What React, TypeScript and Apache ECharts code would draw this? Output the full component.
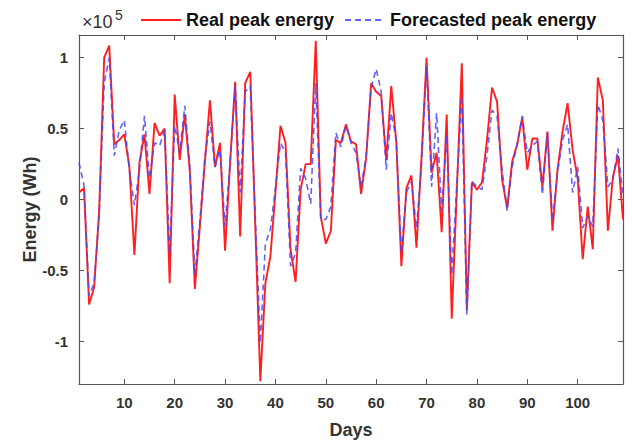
import React, { useEffect, useRef } from "react";
import * as echarts from "echarts";

// Daily peak energy in Wh, day 1 .. day 109
const realPeak = [
  5000, 8000, -74000, -62000, -8000, 100000, 108500, 39000, 42000, 46000,
  23000, -39000, 26000, 46000, 4000, 54000, 45000, 50000, -59000, 74000,
  28000, 60000, 20000, -63000, -19000, 27000, 70000, 23000, 40000, -36000,
  26000, 83000, -26000, 82000, 90000, -19000, -128000, -59000, -40000, 5000,
  52000, 40000, -35000, -58000, 7000, 25000, 25000, 112000, -12000, -31000,
  -22000, 42000, 40000, 53000, 41000, 39000, 4000, 29000, 82000, 76000,
  73000, 28000, 80000, 40000, -47000, 8000, 17000, -34000, 30000, 100000,
  19000, 33000, -23000, 60000, -84000, 5000, 96000, -78000, 12000, 7000,
  12000, 42000, 79000, 69000, 14000, -6000, 27000, 39000, 58000, 21000,
  43000, 43000, 9000, 48000, -22000, 21000, 48000, 68000, 35000, 15000,
  -42000, -5000, -35000, 86000, 70000, -22000, 16000, 31000, -14000,
];

const forecastPeak = [
  26000, 10000, -68000, -59000, -12000, 82000, 100000, 31000, 49000, 56000,
  21000, -4000, 21000, 59000, 15000, 40000, 38000, 49000, -38000, 52000,
  33000, 66000, 25000, -53000, -15000, 30000, 55000, 23000, 35000, -19000,
  26000, 80000, 5000, 76000, 80000, -12000, -101000, -31000, -21000, 8000,
  40000, 33000, -47000, -38000, 22000, 15000, -3000, 82000, -14000, -14000,
  -5000, 47000, 37000, 52000, 40000, 33000, 9000, 30000, 79000, 92000,
  76000, 21000, 61000, 42000, -38000, 5000, 13000, -20000, 25000, 94000,
  9000, 61000, -8000, 45000, -53000, 10000, 73000, -81000, 13000, 9000,
  7000, 31000, 63000, 59000, 21000, -8000, 23000, 39000, 59000, 33000,
  38000, 41000, 3500, 47000, -15000, 19000, 42000, 53000, 5000, 23000,
  -20000, -12000, -19000, 67000, 56000, 9000, 14000, 36000, 2000,
];

const dayTicks = [10, 20, 30, 40, 50, 60, 70, 80, 90, 100];
const energyTicks = [-100000, -50000, 0, 50000, 100000];

const FONT = "Arial, 'Liberation Sans', Helvetica, sans-serif";
const AXIS_COLOR = "#555";
const TEXT_COLOR = "#333";
const RED = "#ff1f1f";
const BLUE = "rgba(70,70,255,0.85)";

export default function App() {
  const ref = useRef<HTMLDivElement>(null);

  useEffect(() => {
    if (!ref.current) return;
    const chart = echarts.init(ref.current, null, { renderer: "svg" });

    const axisLine = { onZero: false, lineStyle: { color: AXIS_COLOR, width: 1.2 } };
    const tickStyle = { color: AXIS_COLOR, width: 1 };

    chart.setOption({
      animation: false,
      backgroundColor: "#ffffff",
      textStyle: { fontFamily: FONT },
      grid: { left: 79, right: 9, top: 35, bottom: 58, containLabel: false },
      legend: {
        top: 6,
        left: 135,
        itemWidth: 40,
        itemHeight: 14,
        itemGap: 10,
        itemStyle: { opacity: 0 },
        textStyle: { fontSize: 18, fontWeight: "bold", color: "#111", fontFamily: FONT },
        data: ["Real peak energy", "Forecasted peak energy"],
      },
      graphic: [
        {
          type: "text",
          left: 82,
          top: 13,
          style: { text: "×10", font: `18px ${FONT}`, fill: TEXT_COLOR },
        },
        {
          type: "text",
          left: 115,
          top: 8,
          style: { text: "5", font: `14px ${FONT}`, fill: TEXT_COLOR },
        },
      ],
      xAxis: [
        {
          type: "value",
          position: "bottom",
          min: 1,
          max: 109,
          name: "Days",
          nameLocation: "middle",
          nameGap: 37,
          nameMoveOverlap: false,
          nameTextStyle: { fontSize: 18, fontWeight: "bold", color: TEXT_COLOR, fontFamily: FONT },
          axisLine,
          axisTick: { inside: true, length: 5, customValues: dayTicks, lineStyle: tickStyle },
          axisLabel: {
            customValues: dayTicks,
            fontSize: 15,
            fontWeight: "bold",
            color: TEXT_COLOR,
            margin: 11,
            fontFamily: FONT,
          },
          splitLine: { show: false },
        },
        {
          type: "value",
          position: "top",
          min: 1,
          max: 109,
          axisLine,
          axisTick: { inside: true, length: 5, customValues: dayTicks, lineStyle: tickStyle },
          axisLabel: { show: false },
          splitLine: { show: false },
        },
      ],
      yAxis: [
        {
          type: "value",
          position: "left",
          min: -130000,
          max: 116000,
          name: "Energy (Wh)",
          nameLocation: "middle",
          nameGap: 40,
          nameMoveOverlap: false,
          nameTextStyle: { fontSize: 18, fontWeight: "bold", color: TEXT_COLOR, fontFamily: FONT },
          axisLine,
          axisTick: { inside: true, length: 5, customValues: energyTicks, lineStyle: tickStyle },
          axisLabel: {
            customValues: energyTicks,
            fontSize: 15,
            fontWeight: "bold",
            color: TEXT_COLOR,
            margin: 11,
            fontFamily: FONT,
            formatter: (v: number) => String(v / 100000),
          },
          splitLine: { show: false },
        },
        {
          type: "value",
          position: "right",
          min: -130000,
          max: 116000,
          axisLine,
          axisTick: { inside: true, length: 5, customValues: energyTicks, lineStyle: tickStyle },
          axisLabel: { show: false },
          splitLine: { show: false },
        },
      ],
      series: [
        {
          name: "Real peak energy",
          type: "line",
          xAxisIndex: 0,
          yAxisIndex: 0,
          data: realPeak.map((v, i) => [i + 1, v]),
          symbol: "none",
          lineStyle: { color: RED, width: 1.9 },
          itemStyle: { color: RED },
          z: 2,
        },
        {
          name: "Forecasted peak energy",
          type: "line",
          xAxisIndex: 0,
          yAxisIndex: 0,
          data: forecastPeak.map((v, i) => [i + 1, v]),
          symbol: "none",
          lineStyle: { color: BLUE, width: 1.6, type: [6, 4] },
          itemStyle: { color: BLUE },
          z: 3,
        },
      ],
    });

    return () => chart.dispose();
  }, []);

  return (
    <div
      ref={ref}
      style={{ position: "absolute", left: 0, top: 0, width: 632, height: 444 }}
    />
  );
}
